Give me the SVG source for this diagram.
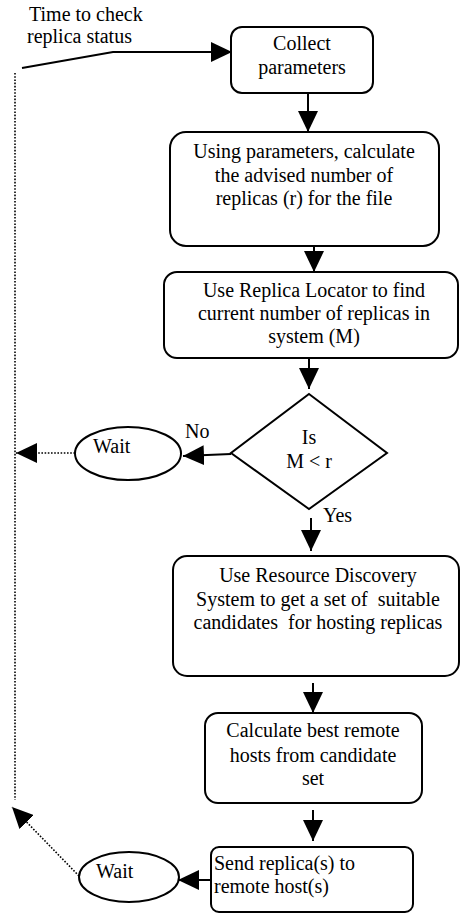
<svg xmlns="http://www.w3.org/2000/svg" width="467" height="915" viewBox="0 0 467 915">
<style>
text{font-family:'Liberation Serif','Tinos','DejaVu Serif','Times New Roman',Times,serif;font-size:20px;fill:#000}
.c{text-anchor:middle}
.box{fill:#fff;stroke:#000;stroke-width:2}
.ln{fill:none;stroke:#000;stroke-width:2}
.dot{fill:none;stroke:#000;stroke-width:1.6;stroke-dasharray:1.6,1.6}
</style>
<defs>
<marker id="ah" markerUnits="userSpaceOnUse" markerWidth="22" markerHeight="20" refX="21" refY="10" orient="auto" viewBox="0 0 22 20">
<path d="M0,0 L21,10 L0,20 Z" fill="#000"/>
</marker>
</defs>
<rect width="467" height="915" fill="#fff"/>
<g font-family="Liberation Serif, Tinos, DejaVu Serif, serif">
<text x="29" y="21">Time to check</text>
<text x="27" y="43">replica status</text>
<g id="connectors">
<polyline class="ln" points="22,68 113,52 232,52" marker-end="url(#ah)"/>
<line class="ln" x1="308" y1="93" x2="308" y2="132" marker-end="url(#ah)"/>
<line class="ln" x1="314" y1="246" x2="314" y2="272" marker-end="url(#ah)"/>
<line class="ln" x1="309" y1="358" x2="309" y2="389" marker-end="url(#ah)"/>
<line class="ln" x1="311" y1="518" x2="311" y2="551" marker-end="url(#ah)"/>
<line class="ln" x1="313" y1="683" x2="313" y2="713" marker-end="url(#ah)"/>
<line class="ln" x1="313" y1="810" x2="313" y2="841" marker-end="url(#ah)"/>
<line class="ln" x1="231" y1="454" x2="183" y2="456" marker-end="url(#ah)"/>
<line class="ln" x1="211" y1="880" x2="178" y2="880" marker-end="url(#ah)"/>
<line class="dot" x1="75" y1="453" x2="16" y2="453" marker-end="url(#ah)"/>
<line class="dot" x1="79" y1="876" x2="12" y2="807" marker-end="url(#ah)"/>
<line class="dot" x1="15" y1="73" x2="15" y2="800"/>
<text x="185" y="438">No</text>
<text x="323" y="522">Yes</text>
</g>
<g id="collect">
<rect class="box" x="231" y="27" width="142" height="66" rx="11"/>
<text class="c" x="302" y="50">Collect</text>
<text class="c" x="302" y="74">parameters</text>
</g>
<g id="calc-r">
<rect class="box" x="170" y="132" width="269" height="114" rx="16"/>
<text class="c" x="304" y="158">Using parameters, calculate</text>
<text class="c" x="304" y="182">the advised number of</text>
<text class="c" x="304" y="205">replicas (r) for the file</text>
</g>
<g id="locator">
<rect class="box" x="164" y="272" width="294" height="86" rx="13"/>
<text class="c" x="314" y="297">Use Replica Locator to find</text>
<text class="c" x="314" y="320">current number of replicas in</text>
<text class="c" x="314" y="343">system (M)</text>
</g>
<g id="decision">
<polygon class="box" points="309,394 387,453 309,509 231,453"/>
<text class="c" x="309" y="444">Is</text>
<text class="c" x="309" y="468">M &lt; r</text>
</g>
<g id="wait1">
<ellipse class="box" cx="128" cy="453.5" rx="53" ry="26.5"/>
<text x="93" y="453">Wait</text>
</g>
<g id="discovery">
<rect class="box" x="173" y="556" width="286" height="120" rx="14"/>
<text class="c" x="318" y="582">Use Resource Discovery</text>
<text class="c" x="318" y="606">System to get a set of&#160; suitable</text>
<text class="c" x="318" y="629">candidates&#160; for hosting replicas</text>
</g>
<g id="best-hosts">
<rect class="box" x="205" y="713" width="217" height="90" rx="13"/>
<text class="c" x="313" y="737">Calculate best remote</text>
<text class="c" x="313" y="762">hosts from candidate</text>
<text class="c" x="313" y="785">set</text>
</g>
<g id="send">
<rect class="box" x="211" y="847" width="202" height="65" rx="8"/>
<text x="214" y="870">Send replica(s) to</text>
<text x="214" y="893">remote host(s)</text>
</g>
<g id="wait2">
<ellipse class="box" cx="129" cy="877" rx="50" ry="25"/>
<text x="96" y="878">Wait</text>
</g>
</g>
</svg>
